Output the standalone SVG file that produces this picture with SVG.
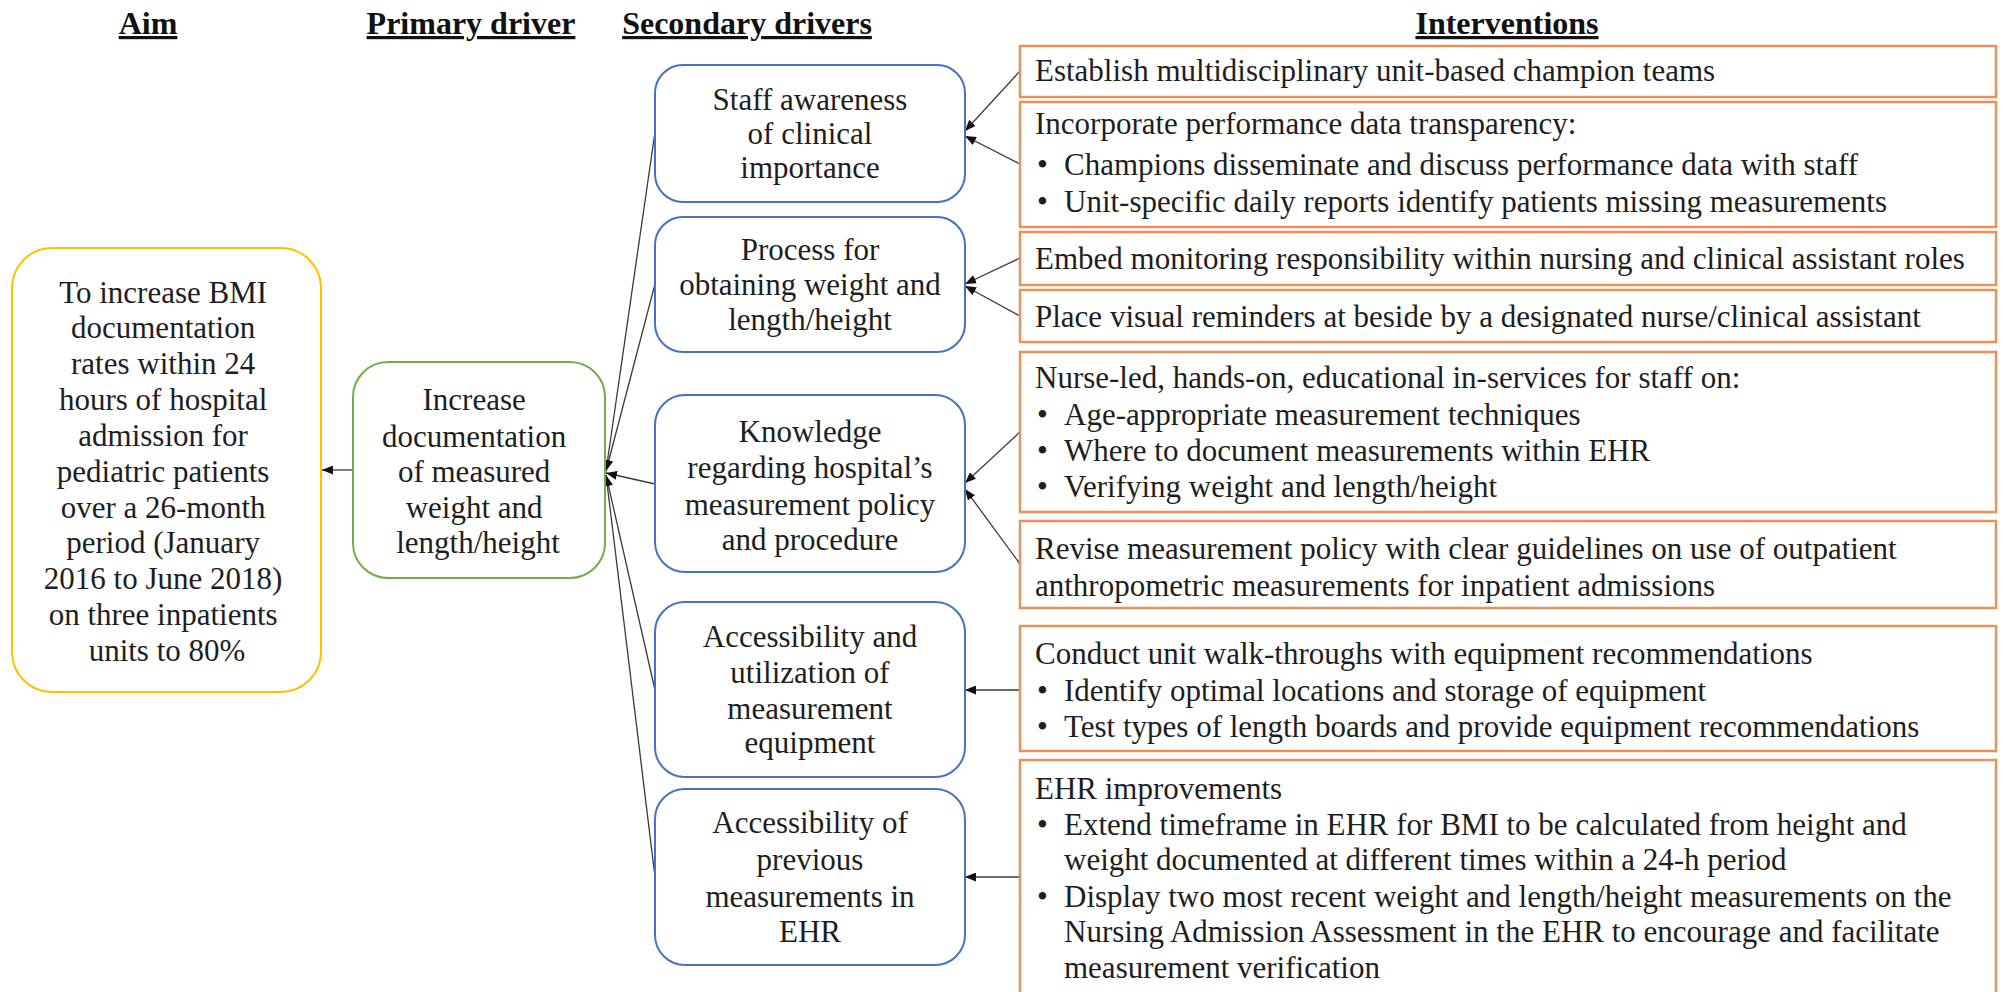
<svg xmlns="http://www.w3.org/2000/svg" width="2003" height="992" viewBox="0 0 2003 992">
<defs>
<style>
text{font-family:'Liberation Serif','Times New Roman',serif}
.t{font-size:31px;fill:#1e1e1e}
.c{text-anchor:middle}
.h{font-size:32px;font-weight:bold;fill:#111;text-anchor:middle;text-decoration:underline}
.aim{fill:#fff;stroke:#FFC000;stroke-width:2}
.pri{fill:#fff;stroke:#70AD47;stroke-width:2}
.sec{fill:#fff;stroke:#4472C4;stroke-width:2}
.int{fill:#fff;stroke:#EC9059;stroke-width:2.5}
.ln{stroke:#3a3a3a;stroke-width:1.3;fill:none;marker-end:url(#ah)}
</style>
<marker id="ah" markerUnits="userSpaceOnUse" markerWidth="11" markerHeight="9" refX="11" refY="4.5" orient="auto">
<path d="M0,0 L11,4.5 L0,9 z" fill="#111"/>
</marker>
</defs>
<rect width="2003" height="992" fill="#fff"/>

<g id="headings">
<text class="h" x="148" y="34">Aim</text>
<text class="h" x="471" y="34">Primary driver</text>
<text class="h" x="747" y="34">Secondary drivers</text>
<text class="h" x="1507" y="34">Interventions</text>
</g>

<g id="connectors">
<line class="ln" x1="353" y1="470" x2="322" y2="470"/>
<line class="ln" x1="655" y1="132" x2="606" y2="471"/>
<line class="ln" x1="655" y1="284" x2="606" y2="471"/>
<line class="ln" x1="655" y1="484" x2="606" y2="473"/>
<line class="ln" x1="655" y1="690" x2="606" y2="475"/>
<line class="ln" x1="655" y1="877" x2="606" y2="475"/>
<line class="ln" x1="1020" y1="71" x2="965" y2="131"/>
<line class="ln" x1="1020" y1="164" x2="965" y2="136"/>
<line class="ln" x1="1020" y1="258" x2="965" y2="284"/>
<line class="ln" x1="1020" y1="316" x2="965" y2="286"/>
<line class="ln" x1="1020" y1="432" x2="965" y2="483"/>
<line class="ln" x1="1020" y1="564" x2="965" y2="489"/>
<line class="ln" x1="1020" y1="690" x2="965" y2="690"/>
<line class="ln" x1="1020" y1="877" x2="965" y2="877"/>
</g>

<g id="aim">
<rect class="aim" x="12" y="248" width="309" height="444" rx="40"/>
<text class="t c" x="167">
<tspan x="167" y="303">To increase BMI</tspan>
<tspan x="167" y="338">documentation</tspan>
<tspan x="167" y="374">rates within 24</tspan>
<tspan x="167" y="410">hours of hospital</tspan>
<tspan x="167" y="446">admission for</tspan>
<tspan x="167" y="482">pediatric patients</tspan>
<tspan x="167" y="518">over a 26-month</tspan>
<tspan x="167" y="553">period (January</tspan>
<tspan x="167" y="589">2016 to June 2018)</tspan>
<tspan x="167" y="625">on three inpatients</tspan>
<tspan x="167" y="661">units to 80%</tspan>
</text>
</g>

<g id="primary">
<rect class="pri" x="353" y="362" width="252" height="216" rx="35"/>
<text class="t c" x="478">
<tspan x="478" y="410">Increase</tspan>
<tspan x="478" y="447">documentation</tspan>
<tspan x="478" y="482">of measured</tspan>
<tspan x="478" y="518">weight and</tspan>
<tspan x="478" y="553">length/height</tspan>
</text>
</g>

<g id="sec1">
<rect class="sec" x="655" y="65" width="310" height="137" rx="28"/>
<text class="t c" x="810"><tspan x="810" y="110">Staff awareness</tspan><tspan x="810" y="144">of clinical</tspan><tspan x="810" y="178">importance</tspan></text>
</g>
<g id="sec2">
<rect class="sec" x="655" y="217" width="310" height="135" rx="28"/>
<text class="t c" x="810"><tspan x="810" y="260">Process for</tspan><tspan x="810" y="295">obtaining weight and</tspan><tspan x="810" y="330">length/height</tspan></text>
</g>
<g id="sec3">
<rect class="sec" x="655" y="395" width="310" height="177" rx="30"/>
<text class="t c" x="810"><tspan x="810" y="442">Knowledge</tspan><tspan x="810" y="478">regarding hospital’s</tspan><tspan x="810" y="515">measurement policy</tspan><tspan x="810" y="550">and procedure</tspan></text>
</g>
<g id="sec4">
<rect class="sec" x="655" y="602" width="310" height="175" rx="30"/>
<text class="t c" x="810"><tspan x="810" y="647">Accessibility and</tspan><tspan x="810" y="683">utilization of</tspan><tspan x="810" y="719">measurement</tspan><tspan x="810" y="753">equipment</tspan></text>
</g>
<g id="sec5">
<rect class="sec" x="655" y="789" width="310" height="176" rx="30"/>
<text class="t c" x="810"><tspan x="810" y="833">Accessibility of</tspan><tspan x="810" y="870">previous</tspan><tspan x="810" y="907">measurements in</tspan><tspan x="810" y="942">EHR</tspan></text>
</g>

<g id="int1">
<rect class="int" x="1020" y="46" width="976" height="51"/>
<text class="t" x="1035" y="81">Establish multidisciplinary unit-based champion teams</text>
</g>
<g id="int2">
<rect class="int" x="1020" y="102" width="976" height="125"/>
<text class="t"><tspan x="1035" y="134">Incorporate performance data transparency:</tspan><tspan x="1037" y="175">•</tspan><tspan x="1064" y="175">Champions disseminate and discuss performance data with staff</tspan><tspan x="1037" y="212">•</tspan><tspan x="1064" y="212">Unit-specific daily reports identify patients missing measurements</tspan></text>
</g>
<g id="int3">
<rect class="int" x="1020" y="232" width="976" height="53"/>
<text class="t" x="1035" y="269">Embed monitoring responsibility within nursing and clinical assistant roles</text>
</g>
<g id="int4">
<rect class="int" x="1020" y="290" width="976" height="52"/>
<text class="t" x="1035" y="327">Place visual reminders at beside by a designated nurse/clinical assistant</text>
</g>
<g id="int5">
<rect class="int" x="1020" y="352" width="976" height="160"/>
<text class="t"><tspan x="1035" y="388">Nurse-led, hands-on, educational in-services for staff on:</tspan><tspan x="1037" y="425">•</tspan><tspan x="1064" y="425">Age-appropriate measurement techniques</tspan><tspan x="1037" y="461">•</tspan><tspan x="1064" y="461">Where to document measurements within EHR</tspan><tspan x="1037" y="497">•</tspan><tspan x="1064" y="497">Verifying weight and length/height</tspan></text>
</g>
<g id="int6">
<rect class="int" x="1020" y="521" width="976" height="87"/>
<text class="t"><tspan x="1035" y="559">Revise measurement policy with clear guidelines on use of outpatient</tspan><tspan x="1035" y="596">anthropometric measurements for inpatient admissions</tspan></text>
</g>
<g id="int7">
<rect class="int" x="1020" y="626" width="976" height="125"/>
<text class="t"><tspan x="1035" y="664">Conduct unit walk-throughs with equipment recommendations</tspan><tspan x="1037" y="701">•</tspan><tspan x="1064" y="701">Identify optimal locations and storage of equipment</tspan><tspan x="1037" y="737">•</tspan><tspan x="1064" y="737">Test types of length boards and provide equipment recommendations</tspan></text>
</g>
<g id="int8">
<rect class="int" x="1020" y="760" width="976" height="245"/>
<text class="t"><tspan x="1035" y="799">EHR improvements</tspan><tspan x="1037" y="835">•</tspan><tspan x="1064" y="835">Extend timeframe in EHR for BMI to be calculated from height and</tspan><tspan x="1064" y="870">weight documented at different times within a 24-h period</tspan><tspan x="1037" y="907">•</tspan><tspan x="1064" y="907">Display two most recent weight and length/height measurements on the</tspan><tspan x="1064" y="942">Nursing Admission Assessment in the EHR to encourage and facilitate</tspan><tspan x="1064" y="978">measurement verification</tspan></text>
</g>
</svg>
